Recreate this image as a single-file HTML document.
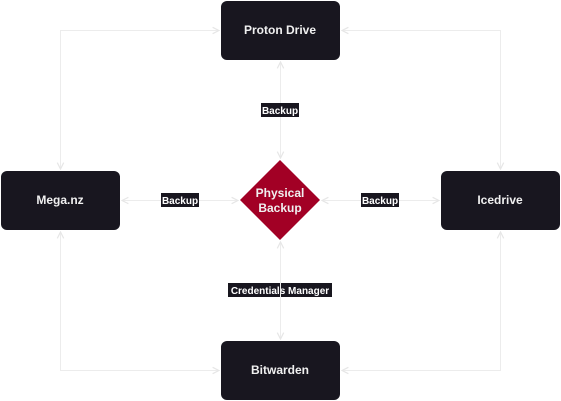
<!DOCTYPE html>
<html><head><style>
html,body{margin:0;padding:0;background:#fff;}
svg{display:block;font-family:"Liberation Sans",Arial,sans-serif;}
</style></head><body>
<svg width="561" height="401" viewBox="0 0 561 401" xmlns="http://www.w3.org/2000/svg">
<defs>
<marker id="a" viewBox="0 0 10 10" refX="9" refY="5" markerWidth="8" markerHeight="8" orient="auto-start-reverse" markerUnits="userSpaceOnUse">
<path d="M1,1 L9,5 L1,9" fill="none" stroke="#e6e6e6" stroke-width="1.5"/>
</marker>
</defs>
<g fill="none" stroke="#ececec" stroke-width="1" marker-start="url(#a)" marker-end="url(#a)">
<path d="M60.5,169 V30.5 H219"/>
<path d="M500.5,169 V30.5 H342"/>
<path d="M60.5,232 V370.5 H219"/>
<path d="M500.5,232 V370.5 H342"/>
<path d="M280.5,62 V158"/>
<path d="M122,200.5 H238"/>
<path d="M322,200.5 H439"/>
</g>
<g font-size="10" font-weight="bold" fill="#fff" text-anchor="middle">
<rect x="261" y="103" width="38" height="14" fill="#18161f"/>
<text x="280" y="114">Backup</text>
<rect x="161" y="193" width="38" height="14" fill="#18161f"/>
<text x="180" y="204">Backup</text>
<rect x="361" y="193" width="38" height="14" fill="#18161f"/>
<text x="380" y="204">Backup</text>
<rect x="228" y="283" width="104" height="14" fill="#18161f"/>
<text x="280" y="294">Credentials Manager</text>
</g>
<path d="M280.5,242 V339" fill="none" stroke="#ececec" stroke-width="1" marker-start="url(#a)" marker-end="url(#a)"/>
<g fill="#18161f">
<rect x="221" y="1" width="119" height="59" rx="6"/>
<rect x="1" y="171" width="119" height="59" rx="6"/>
<rect x="441" y="171" width="119" height="59" rx="6"/>
<rect x="221" y="341" width="119" height="59" rx="6"/>
</g>
<path d="M280,160 L320,200 L280,240 L240,200 Z" fill="#a20025"/>
<g font-size="12" font-weight="bold" fill="#f0f0f0" text-anchor="middle">
<text x="280" y="34">Proton Drive</text>
<text x="60" y="204">Mega.nz</text>
<text x="500" y="204">Icedrive</text>
<text x="280" y="374">Bitwarden</text>
<text x="280" y="197">Physical</text>
<text x="280" y="212">Backup</text>
</g>
</svg>
</body></html>
